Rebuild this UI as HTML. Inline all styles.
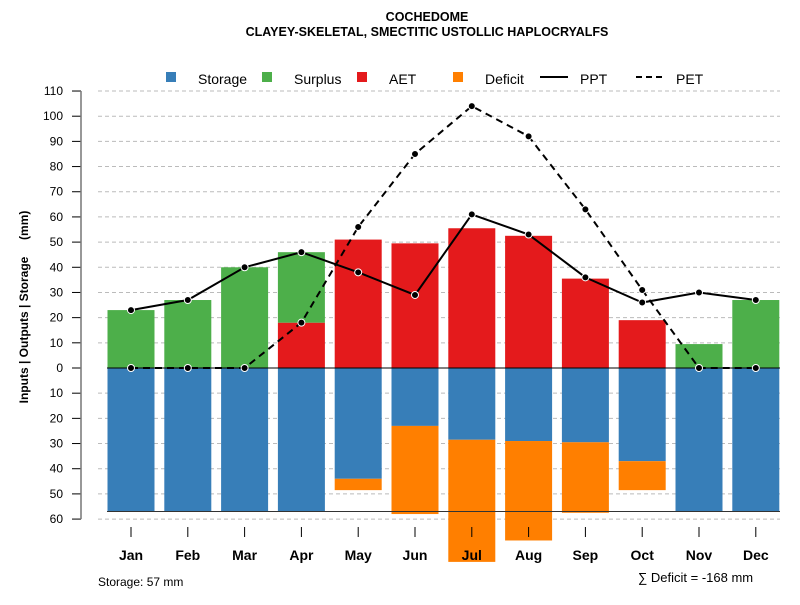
<!DOCTYPE html>
<html><head><meta charset="utf-8"><style>
body{margin:0;background:#fff;font-family:"Liberation Sans",sans-serif}
</style></head><body>
<svg width="800" height="600" xmlns="http://www.w3.org/2000/svg" font-family="Liberation Sans, sans-serif">
<text x="427" y="21" text-anchor="middle" font-size="12.5" font-weight="bold">COCHEDOME</text>
<text x="427" y="36" text-anchor="middle" font-size="12.5" font-weight="bold">CLAYEY-SKELETAL, SMECTITIC USTOLLIC HAPLOCRYALFS</text>
<g id="legend" font-size="14">
<rect x="166" y="72" width="10" height="10" fill="#377eb8"/>
<text x="198" y="84">Storage</text>
<rect x="262" y="72" width="10" height="10" fill="#4daf4a"/>
<text x="294" y="84">Surplus</text>
<rect x="357" y="72" width="10" height="10" fill="#e41a1c"/>
<text x="389" y="84">AET</text>
<rect x="453" y="72" width="10" height="10" fill="#ff7f00"/>
<text x="485" y="84">Deficit</text>
<line x1="540" y1="77" x2="568" y2="77" stroke="#000" stroke-width="2"/>
<text x="580" y="84">PPT</text>
<line x1="636" y1="77" x2="664" y2="77" stroke="#000" stroke-width="2" stroke-dasharray="6,4"/>
<text x="676" y="84">PET</text>
</g>
<g id="grid"></g><g id="yaxis"></g><g id="bars"></g><g id="xaxis"></g><g id="lines"></g>
<text x="98" y="586" font-size="12">Storage: 57 mm</text>
<text x="638" y="582" font-size="13">∑ Deficit = -168 mm</text>
<text transform="translate(28,307) rotate(-90)" text-anchor="middle" font-size="12" font-weight="bold" xml:space="preserve" style="white-space:pre">Inputs | Outputs | Storage     (mm)</text>
</svg>
<script>
const months=["Jan","Feb","Mar","Apr","May","Jun","Jul","Aug","Sep","Oct","Nov","Dec"];
const storage=[57,57,57,57,44,23,28.5,29,29.5,37,57,57];
const deficit=[0,0,0,0,4.5,35,48.5,39.5,28,11.5,0,0];
const aet=[0,0,0,18,51,49.5,55.5,52.5,35.5,19,0,0];
const surplus=[23,27,40,28,0,0,0,0,0,0,9.5,27];
const ppt=[23,27,40,46,38,29,61,53,36,26,30,27];
const pet=[0,0,0,18,56,85,104,92,63,31,0,0];
const yTicks=[110,100,90,80,70,60,50,40,30,20,10,0,-10,-20,-30,-40,-50,-60];
const maxStorage=57;
const NS="http://www.w3.org/2000/svg";
const y=v=>368-v*2.518;
const x=i=>131+i*56.8;
const bw=47;
function mk(p,t,a){const e=document.createElementNS(NS,t);for(const k in a)e.setAttribute(k,a[k]);document.getElementById(p).appendChild(e);return e;}
yTicks.forEach(v=>{
 if(v!==0){const g=mk("grid","line",{x1:98,x2:780,y1:y(v),y2:y(v),stroke:"#bbb","stroke-dasharray":"4,3"});
 
 }
 const t=mk("yaxis","line",{x1:72,x2:81,y1:y(v),y2:y(v),stroke:"#000"});
 
 
 const l=mk("yaxis","text",{x:63,y:y(v)+4,"text-anchor":"end","font-size":12});
 l.textContent=Math.abs(v);
 
 
});
const ax=mk("yaxis","line",{x1:81,x2:81,y1:y(110),y2:y(-60),stroke:"#777","stroke-width":1.5});


months.forEach((m,i)=>{
 const cx=x(i),L=cx-bw/2;
 const tk=mk("xaxis","line",{x1:cx,x2:cx,y1:527,y2:537,stroke:"#000"});
 
 
 let r;
 r=mk("bars","rect",{x:L,y:y(0),width:bw,height:y(-storage[i])-y(0),fill:"#377eb8"});
 
 
 if(deficit[i]>0){r=mk("bars","rect",{x:L,y:y(-storage[i]),width:bw,height:deficit[i]*2.518,fill:"#ff7f00"});
 
 }
 if(aet[i]>0){r=mk("bars","rect",{x:L,y:y(aet[i]),width:bw,height:aet[i]*2.518,fill:"#e41a1c"});
 
 }
 if(surplus[i]>0){r=mk("bars","rect",{x:L,y:y(aet[i]+surplus[i]),width:bw,height:surplus[i]*2.518,fill:"#4daf4a"});
 
 }
 const t=mk("xaxis","text",{x:cx,y:560,"text-anchor":"middle","font-size":14,"font-weight":"bold"});
 t.textContent=m;
 
 
});
const z=mk("bars","line",{x1:107,x2:780,y1:y(0),y2:y(0),stroke:"#000"});


const sl=mk("bars","line",{x1:107,x2:780,y1:y(-maxStorage),y2:y(-maxStorage),stroke:"#333"});


function series(arr,name,dash){
 const pl=mk("lines","polyline",{points:arr.map((v,i)=>x(i)+","+y(v)).join(" "),fill:"none",stroke:"#000","stroke-width":2,"stroke-dasharray":dash});
 
 
 arr.forEach((v,i)=>{const c=mk("lines","circle",{cx:x(i),cy:y(v),r:3.5,fill:"#000",stroke:"#fff","stroke-width":1});
 
 });
}
series(pet,"pet","7,5");
series(ppt,"ppt","none");
</script>
</body></html>
